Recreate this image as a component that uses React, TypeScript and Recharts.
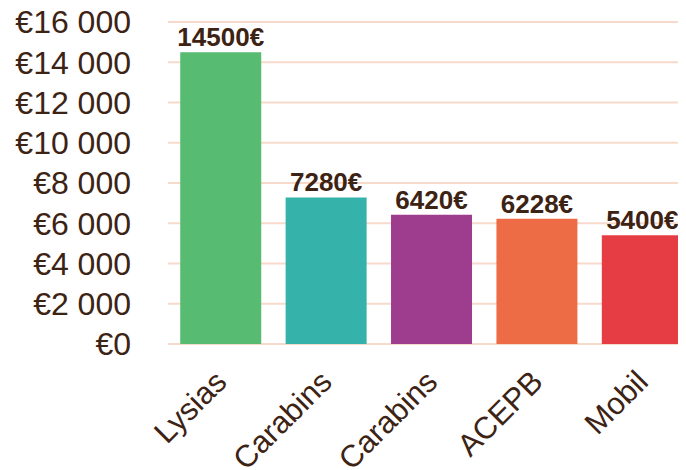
import React from 'react';
import { BarChart, Bar, XAxis, YAxis, CartesianGrid, LabelList, Cell } from 'recharts';

const categories = ['Lysias', 'Carabins', 'Carabins', 'ACEPB', 'Mobil'];
const amounts = [14500, 7280, 6420, 6228, 5400];
const barColors = ['#57bb71', '#35b2aa', '#9e3d8e', '#ee6c45', '#e63c44'];
const yTicks = [0, 2000, 4000, 6000, 8000, 10000, 12000, 14000, 16000];

const data = categories.map((name, i) => ({ id: i, name, amount: amounts[i] }));

const textColor = '#3d2314';
const font = '"Liberation Sans", Arial, sans-serif';

const formatEuro = (v: number) => {
  const s = String(v).replace(/\B(?=(\d{3})+(?!\d))/g, ' ');
  return `€${s}`;
};

const RotatedTick = (props: any) => {
  const { x, y, payload } = props;
  const ty = y + 32;
  return (
    <text
      x={x}
      y={ty}
      dy="0.35em"
      textAnchor="end"
      fill={textColor}
      fontSize={31}
      fontFamily={font}
      transform={`rotate(-45, ${x}, ${ty})`}
    >
      {categories[payload.value]}
    </text>
  );
};

const App: React.FC = () => {
  return (
    <div style={{ width: 678, height: 462, overflow: 'hidden' }}>
      <BarChart
        width={687}
        height={462}
        data={data}
        margin={{ top: 14, right: 0, left: 0, bottom: 0 }}
        barCategoryGap="11.6%"
      >
        <CartesianGrid vertical={false} stroke="#f8dacd" strokeWidth={2} />
        <XAxis
          dataKey="id"
          height={126}
          axisLine={false}
          tickLine={false}
          tickSize={0}
          tickMargin={0}
          interval={0}
          tick={<RotatedTick />}
        />
        <YAxis
          width={160}
          domain={[0, 16000]}
          ticks={yTicks}
          interval={0}
          axisLine={false}
          tickLine={false}
          tickSize={0}
          tickMargin={37}
          tickFormatter={formatEuro}
          tick={{ fill: textColor, fontSize: 32, fontFamily: font }}
        />
        <Bar dataKey="amount" isAnimationActive={false}>
          {data.map((d, i) => (
            <Cell key={d.id} fill={barColors[i]} />
          ))}
          <LabelList
            dataKey="amount"
            position="top"
            offset={6}
            formatter={(v: any) => `${v}€`}
            fill={textColor}
            fontSize={26}
            fontWeight="bold"
            fontFamily={font}
          />
        </Bar>
      </BarChart>
    </div>
  );
};

export default App;
